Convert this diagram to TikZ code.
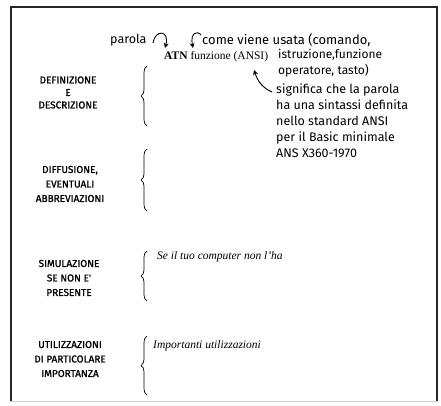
\documentclass[tikz,border=0pt]{standalone}
\usepackage{fontspec}
\setmainfont{Liberation Serif}
\newfontfamily\handfont{Fira Sans}
\newfontfamily\capsfont{Fira Sans}[FakeBold=1.2]
\usetikzlibrary{decorations.pathreplacing,arrows.meta}

\begin{document}
\begin{tikzpicture}[x=1pt,y=-1pt,
	hand/.style={font=\handfont\fontsize{12.5}{16}\selectfont, inner sep=0pt, anchor=west, align=left},
	caps/.style={font=\capsfont\fontsize{10}{14.5}\selectfont, inner sep=0pt, align=center},
	print/.style={font=\fontsize{11.5}{13}\selectfont, inner sep=0pt, anchor=west},
	hbrace/.style={decorate, decoration={brace, amplitude=6pt}, line width=0.7pt},
	curl/.style={-{Stealth[length=5pt,width=5pt]}, line width=0.9pt}]
	\useasboundingbox (0,0) rectangle (441,405);
	\draw[line width=1.2pt, black!85] (11,401) -- (11,7) -- (437,7) -- (437,401);
	\draw[line width=0.6pt, black!20] (11,401) -- (437,401);

	% top annotations
	\node[hand] (parola) at (110, 40) {parola};
	\node[hand, font=\handfont\fontsize{13}{16}\selectfont] (uso) at (202, 40) {come viene usata (comando,};
	\node[print] (atn) at (164, 57) {\textbf{ATN} funzione (ANSI)};
	\node[hand, anchor=north west, font=\handfont\fontsize{12}{15.5}\selectfont] (tipo) at (278, 49) {istruzione,funzione\\operatore, tasto)};
	\node[hand, anchor=north west] (ansi) at (276, 84) {significa che la parola\\ha una sintassi definita\\nello standard ANSI\\per il Basic minimale\\ANS X360-1970};

	\coordinate (c1a) at (153, 43);
	\coordinate (c1b) at (165, 48);
	\coordinate (c2a) at (201, 35);
	\coordinate (c2b) at (193, 48);
	\draw[curl] (c1a) .. controls (155, 29) and (170, 30) .. (c1b);
	\draw[curl] (c2a) .. controls (197, 30) and (190, 33) .. (c2b);
	\coordinate (sig) at (272, 92);
	\draw[curl] (sig) .. controls (263, 88) and (258, 82) .. (254, 70);

	% voci della scheda
	\node[caps, font=\capsfont\fontsize{10}{12.5}\selectfont] (defin) at (68, 92.5) {DEFINIZIONE\\E\\DESCRIZIONE};
	\node[caps] (diffus) at (70, 184) {DIFFUSIONE,\\EVENTUALI\\ABBREVIAZIONI};
	\node[caps] (simul) at (69, 278) {SIMULAZIONE\\SE NON E'\\PRESENTE};
	\node[caps] (utiliz) at (70, 359) {UTILIZZAZIONI\\DI PARTICOLARE\\IMPORTANZA};

	\draw[hbrace] (147, 126) -- (147, 66);
	\draw[hbrace] (147, 211) -- (147, 149);
	\draw[hbrace] (147, 301) -- (147, 251);
	\draw[hbrace] (147, 395) -- (147, 336);

	\node[print] (simtxt) at (157, 257) {\itshape Se il tuo computer non l'ha};
	\node[print] (utitxt) at (153, 346) {\itshape Importanti utilizzazioni};
\end{tikzpicture}
\end{document}
